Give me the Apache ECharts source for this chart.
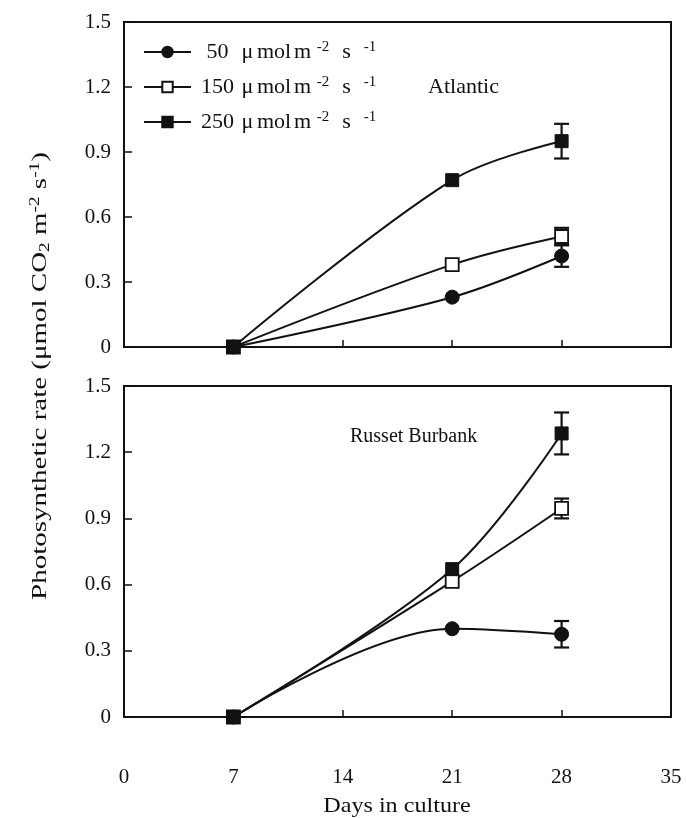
<!DOCTYPE html>
<html>
<head>
<meta charset="utf-8">
<script src="https://cdn.jsdelivr.net/npm/echarts@6/dist/echarts.min.js"></script>
<style>html,body{margin:0;padding:0;background:#fff;}#c{width:686px;height:818px;}</style>
</head>
<body>
<div id="c"></div>
<script>
// ---- data ----
const days = [7, 21, 28];
const xTicks = [0, 7, 14, 21, 28, 35];
const yTicks = [0, 0.3, 0.6, 0.9, 1.2, 1.5];
const seriesNames = ['50', '150', '250'];
// Atlantic (top panel)
const atl50 = [0, 0.23, 0.42];
const atl50Err = [0, 0, 0.05];
const atl150 = [0, 0.38, 0.51];
const atl150Err = [0, 0, 0.04];
const atl250 = [0, 0.77, 0.95];
const atl250Err = [0, 0, 0.08];
// Russet Burbank (bottom panel)
const rb50 = [0, 0.40, 0.375];
const rb50Err = [0, 0, 0.06];
const rb150 = [0, 0.615, 0.945];
const rb150Err = [0, 0, 0.045];
const rb250 = [0, 0.67, 1.285];
const rb250Err = [0, 0, 0.095];

const FONT = '"Liberation Serif", "Times New Roman", serif';
const chart = echarts.init(document.getElementById('c'));

const symbols = {
  '50': {symbol: 'circle', symbolSize: 14, itemStyle: {color: '#111', borderColor: '#111', borderWidth: 1}},
  '150': {symbol: 'rect', symbolSize: 13, itemStyle: {color: '#fff', borderColor: '#111', borderWidth: 1.8}},
  '250': {symbol: 'rect', symbolSize: 13, itemStyle: {color: '#111', borderColor: '#111', borderWidth: 1}}
};

function pairs(vals) { return days.map((d, i) => [d, vals[i]]); }
function errPairs(vals, errs) { return days.map((d, i) => [d, vals[i], errs[i]]); }

function lineSeries(name, vals, gi) {
  const s = symbols[name];
  return {
    type: 'line', name: name, xAxisIndex: gi, yAxisIndex: gi,
    data: pairs(vals), smooth: 0.35,
    symbol: s.symbol, symbolSize: s.symbolSize, itemStyle: s.itemStyle,
    lineStyle: {color: '#111', width: 2}, z: 3
  };
}
function errSeries(vals, errs, gi) {
  return {
    type: 'custom', xAxisIndex: gi, yAxisIndex: gi, z: 2,
    data: errPairs(vals, errs), encode: {x: 0, y: 1},
    renderItem: function (params, api) {
      const x = api.value(0), y = api.value(1), e = api.value(2);
      if (!e) return null;
      const top = api.coord([x, y + e]);
      const bot = api.coord([x, y - e]);
      const w = 7.5;
      const st = {stroke: '#111', lineWidth: 2.2};
      return {type: 'group', children: [
        {type: 'line', shape: {x1: top[0], y1: top[1], x2: bot[0], y2: bot[1]}, style: st},
        {type: 'line', shape: {x1: top[0] - w, y1: top[1], x2: top[0] + w, y2: top[1]}, style: st},
        {type: 'line', shape: {x1: bot[0] - w, y1: bot[1], x2: bot[0] + w, y2: bot[1]}, style: st}
      ]};
    }
  };
}

function xAxis(gi, showLabels) {
  return {
    type: 'value', gridIndex: gi, min: 0, max: 35, interval: 7,
    axisLine: {show: true, onZero: false, lineStyle: {color: '#111', width: 2}},
    axisTick: {show: true, inside: true, length: 7, lineStyle: {color: '#111', width: 1.5}},
    axisLabel: {show: showLabels, margin: 50, color: '#111', fontFamily: FONT, fontSize: 21},
    splitLine: {show: false}
  };
}
function yAxis(gi) {
  return {
    type: 'value', gridIndex: gi, min: 0, max: 1.5, interval: 0.3,
    axisLine: {show: true, lineStyle: {color: '#111', width: 2}},
    axisTick: {show: true, inside: true, length: 8, lineStyle: {color: '#111', width: 1.5}},
    axisLabel: {margin: 13, color: '#111', fontFamily: FONT, fontSize: 21,
      formatter: v => (Math.abs(v) < 1e-9 ? '0' : v.toFixed(1))},
    splitLine: {show: false}
  };
}

const LH = 24;
const richLegend = {
  n: {fontFamily: FONT, fontSize: 22, color: '#111', lineHeight: LH, width: 43, align: 'right'},
  u: {fontFamily: FONT, fontSize: 22, color: '#111', lineHeight: LH, width: 17, align: 'right'},
  mol: {fontFamily: FONT, fontSize: 22, color: '#111', lineHeight: LH, width: 36, align: 'center'},
  m: {fontFamily: FONT, fontSize: 22, color: '#111', lineHeight: LH, width: 21, align: 'center'},
  s2: {fontFamily: FONT, fontSize: 15, color: '#111', lineHeight: 15, verticalAlign: 'top', width: 20, align: 'center'},
  s: {fontFamily: FONT, fontSize: 22, color: '#111', lineHeight: LH, width: 27, align: 'right'},
  s1: {fontFamily: FONT, fontSize: 15, color: '#111', lineHeight: 15, verticalAlign: 'top', width: 20, align: 'center'}
};

chart.setOption({
  animation: false,
  backgroundColor: '#fff',
  grid: [
    {left: 124, right: 15, top: 22, height: 325, show: true, borderColor: '#111', borderWidth: 2, backgroundColor: 'transparent'},
    {left: 124, right: 15, top: 386, height: 331, show: true, borderColor: '#111', borderWidth: 2, backgroundColor: 'transparent'}
  ],
  xAxis: [xAxis(0, false), xAxis(1, true)],
  yAxis: [yAxis(0), yAxis(1)],
  legend: {
    data: seriesNames,
    orient: 'vertical', left: 143, top: 40, padding: 0,
    itemWidth: 47, itemHeight: 13, itemGap: 12,
    selectedMode: false,
    formatter: name => '{n|' + name + '}{u|μ}{mol|mol}{m|m}{s2|-2}{s|s}{s1|-1}',
    textStyle: {rich: richLegend}
  },
  graphic: [
    {type: 'text', x: 428, y: 87, scaleX: 1.05,
      style: {text: 'Atlantic', font: '21px ' + FONT, fill: '#111', verticalAlign: 'middle'}},
    {type: 'text', x: 350, y: 437,
      style: {text: 'Russet Burbank', font: '20px ' + FONT, fill: '#111', verticalAlign: 'middle'}},
    {type: 'text', x: 397, y: 806, scaleX: 1.15,
      style: {text: 'Days in culture', font: '21px ' + FONT, fill: '#111', align: 'center', verticalAlign: 'middle'}},
    {type: 'text', x: 40, y: 376, rotation: Math.PI / 2, scaleX: 1.38,
      style: {
        text: '{a|Photosynthetic rate (μmol CO}{b|2}{a| m}{s|-2}{a| s}{s|-1}{a|)}',
        align: 'center', verticalAlign: 'middle',
        rich: {
          a: {fontFamily: FONT, fontSize: 21, fill: '#111', lineHeight: 24},
          s: {fontFamily: FONT, fontSize: 14, fill: '#111', lineHeight: 14, verticalAlign: 'top'},
          b: {fontFamily: FONT, fontSize: 14, fill: '#111', lineHeight: 14, verticalAlign: 'bottom'}
        }
      }}
  ],
  series: [
    lineSeries('50', atl50, 0), lineSeries('150', atl150, 0), lineSeries('250', atl250, 0),
    errSeries(atl50, atl50Err, 0), errSeries(atl150, atl150Err, 0), errSeries(atl250, atl250Err, 0),
    lineSeries('50', rb50, 1), lineSeries('150', rb150, 1), lineSeries('250', rb250, 1),
    errSeries(rb50, rb50Err, 1), errSeries(rb150, rb150Err, 1), errSeries(rb250, rb250Err, 1)
  ]
});
</script>
</body>
</html>
